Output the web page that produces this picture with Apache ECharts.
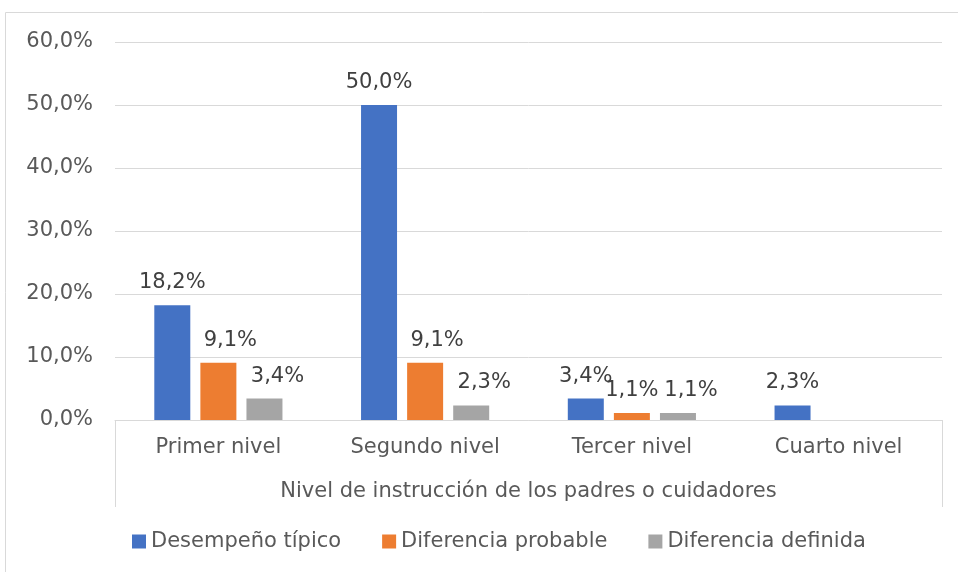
<!DOCTYPE html>
<html><head><meta charset="utf-8">
<script src="https://cdn.jsdelivr.net/npm/echarts@6/dist/echarts.min.js"></script>
<style>html,body{margin:0;padding:0;background:#fff}#c{width:958px;height:572px}</style>
</head><body><div id="c"></div>
<script>
var categories = ['Primer nivel', 'Segundo nivel', 'Tercer nivel', 'Cuarto nivel'];
var seriesNames = ['Desempeño típico', 'Diferencia probable', 'Diferencia definida'];
var desempenoTipico = [18.2, 50.0, 3.4, 2.3];
var diferenciaProbable = [9.1, 9.1, 1.1, null];
var diferenciaDefinida = [3.4, 2.3, 1.1, null];
var axisTitle = 'Nivel de instrucción de los padres o cuidadores';

var colors = ['#4472C4', '#ED7D31', '#A5A5A5'];
var fmt = function (v) { return v.toFixed(1).replace('.', ',') + '%'; };
var font = 'DejaVu Sans, Verdana, sans-serif';
var fs = 21;

function mkSeries(name, data, color, offsetX, itemOffsets) {
  return {
    name: name, type: 'bar', xAxisIndex: 0,
    data: data.map(function (v, i) {
      var o = { value: v };
      if (itemOffsets && itemOffsets[i] !== undefined) o.label = { offset: [itemOffsets[i], 0] };
      return o;
    }),
    barWidth: 36, barGap: '28%', barCategoryGap: '38%',
    itemStyle: { color: color },
    label: {
      show: true, position: 'top', distance: 12, offset: [offsetX, 0],
      formatter: function (p) { return p.value == null ? '' : fmt(p.value); },
      fontFamily: font, fontSize: fs, color: '#404040'
    }
  };
}

var chart = echarts.init(document.getElementById('c'));
chart.setOption({
  animation: false,
  color: colors,
  textStyle: { fontFamily: font },
  graphic: [{
    type: 'rect', shape: { x: 5.5, y: 12.5, width: 1000, height: 600 },
    style: { fill: 'none', stroke: '#d9d9d9', lineWidth: 1 }, silent: true, z: -10
  }],
  grid: { left: 115, right: 16, top: 42, bottom: 152 },
  legend: {
    bottom: 15, left: 127, itemWidth: 14, itemHeight: 14, itemGap: 41,
    icon: 'rect', data: seriesNames,
    textStyle: { fontFamily: font, fontSize: fs, color: '#595959' }
  },
  xAxis: [{
    type: 'category', data: categories, position: 'bottom',
    axisLine: { show: true, lineStyle: { color: '#d9d9d9', width: 1 } },
    axisTick: { show: false },
    axisLabel: { fontFamily: font, fontSize: fs, color: '#595959', margin: 17 },
    name: axisTitle, nameLocation: 'middle', nameGap: 61,
    nameTextStyle: { fontFamily: font, fontSize: fs, color: '#595959' }
  }, {
    type: 'category', data: [''], position: 'bottom', gridIndex: 0,
    axisLine: { show: false },
    axisTick: { show: true, inside: false, length: 87, lineStyle: { color: '#d9d9d9', width: 1 } },
    axisLabel: { show: false }
  }],
  yAxis: {
    type: 'value', min: 0, max: 60, interval: 10,
    axisLine: { show: false }, axisTick: { show: false },
    axisLabel: { formatter: fmt, fontFamily: font, fontSize: fs, color: '#595959', margin: 22 },
    splitLine: { lineStyle: { color: '#d9d9d9', width: 1 } }
  },
  series: [
    mkSeries(seriesNames[0], desempenoTipico, colors[0], 0),
    mkSeries(seriesNames[1], diferenciaProbable, colors[1], 12, { 2: 0 }),
    mkSeries(seriesNames[2], diferenciaDefinida, colors[2], 13)
  ]
});
</script></body></html>
